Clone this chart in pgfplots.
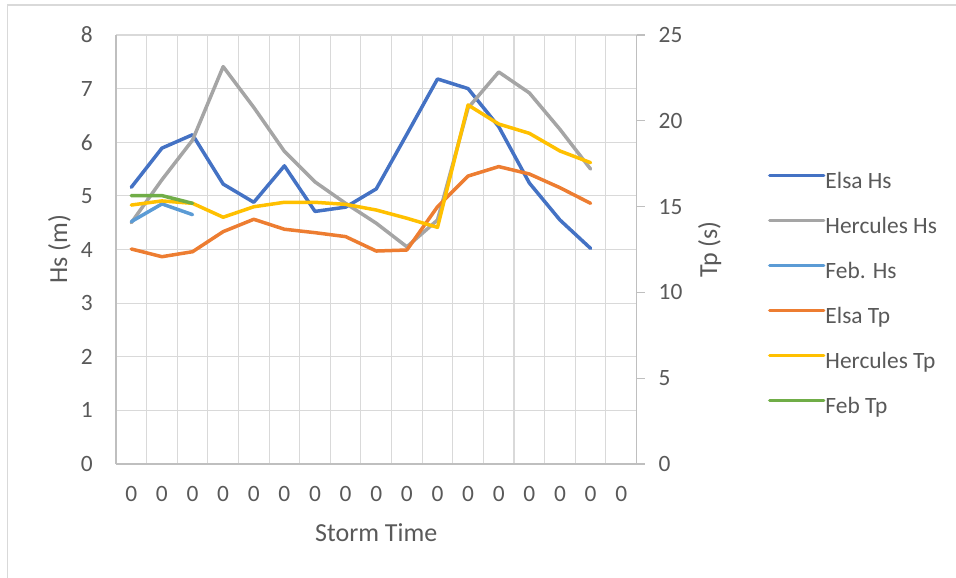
\documentclass[border=0pt]{standalone}
\usepackage{pgfplots}
\pgfplotsset{compat=1.18}
\usepackage{fontspec}
\setmainfont{Carlito}
\definecolor{elsahs}{HTML}{4472C4}
\definecolor{herchs}{HTML}{A5A5A5}
\definecolor{febhs}{HTML}{5B9BD5}
\definecolor{elsatp}{HTML}{ED7D31}
\definecolor{herctp}{HTML}{FFC000}
\definecolor{febtp}{HTML}{70AD47}
\definecolor{gridc}{HTML}{D9D9D9}
\definecolor{axisc}{HTML}{BFBFBF}
\definecolor{txt}{HTML}{595959}
\newcommand{\tickfont}{\fontsize{23.4bp}{28bp}\selectfont}
\newcommand{\titlefont}{\fontsize{26bp}{31bp}\selectfont}
\begin{document}
\begin{tikzpicture}[x=1bp,y=1bp]
\useasboundingbox (0,0) rectangle (956,578);
\draw[gridc, line width=1.3bp] (7.5,0) -- (7.5,573) -- (956,573);
\pgfplotsset{
  every axis/.append style={
    at={(116bp,114bp)}, anchor=south west, scale only axis,
    width=520.5bp, height=429bp,
    xmin=-0.5, xmax=16.5,
    /pgf/number format/assume math mode=true,
    tick label style={font=\tickfont, text=txt},
    label style={font=\titlefont, text=txt},
  },
  every axis plot/.append style={line width=3.5bp, line join=round, line cap=round, mark=none},
}
\begin{axis}[
  ymin=0, ymax=8, ytick={0,1,...,8},
  axis x line*=bottom, axis y line*=left,
  axis line style={axisc, line width=1.3bp},
  xtick={0,...,16},
  xticklabels={0,0,0,0,0,0,0,0,0,0,0,0,0,0,0,0,0},
  minor xtick={-0.5,0.5,1.5,2.5,3.5,4.5,5.5,6.5,7.5,8.5,9.5,10.5,11.5,12.5,13.5,14.5,15.5},
  xminorgrids, ymajorgrids,
  grid style={gridc, line width=1.1bp},
  minor grid style={gridc, line width=1.1bp},
  major tick style={draw=none}, minor tick style={draw=none},
  yticklabel style={anchor=east, inner sep=0pt, xshift=-23bp},
  xticklabel style={anchor=north, inner sep=0pt, yshift=-22bp},
  xlabel={Storm Time}, ylabel={Hs (m)},
  xlabel style={at={(axis description cs:0.5,-0.181)}, anchor=base},
  ylabel style={at={(axis description cs:-0.0941,0.5)}, anchor=base, rotate=0},
]
\addplot[elsahs] coordinates {(0,5.16)(1,5.89)(2,6.14)(3,5.22)(4,4.88)(5,5.56)(6,4.71)(7,4.79)(8,5.13)(9,6.15)(10,7.18)(11,7.00)(12,6.29)(13,5.24)(14,4.55)(15,4.02)};
\addplot[herchs] coordinates {(0,4.50)(1,5.30)(2,6.04)(3,7.41)(4,6.65)(5,5.83)(6,5.26)(7,4.86)(8,4.49)(9,4.05)(10,4.55)(11,6.64)(12,7.31)(13,6.92)(14,6.24)(15,5.50)};
\addplot[febhs] coordinates {(0,4.52)(1,4.85)(2,4.65)};
\end{axis}
\begin{axis}[
  ymin=0, ymax=25, ytick={0,5,...,25},
  axis y line*=right, axis x line=none,
  axis line style={axisc, line width=1.3bp},
  tick align=outside, major tick length=8bp,
  major tick style={axisc, line width=1.3bp},
  yticklabel style={anchor=west, inner sep=0pt, xshift=14bp},
  ylabel={Tp (s)},
  ylabel style={at={(axis description cs:1.1547,0.5)}, anchor=base, rotate=0},
  legend image code/.code={\draw[#1, line width=3.5bp, line cap=round] (0bp,7.5bp) -- (54bp,7.5bp);},
  legend cell align=left,
  legend style={at={(axis description cs:1.2526,0.6795)}, anchor=north west,
    draw=none, fill=none, inner sep=0pt, outer sep=0pt, row sep=24bp,
    font=\tickfont, text=txt,
    nodes={inner sep=0pt, text height=16bp, text depth=5bp},
    /tikz/every even column/.append style={column sep=5bp}},
]
\addlegendimage{elsahs}
\addlegendentry{Elsa Hs}
\addlegendimage{herchs}
\addlegendentry{Hercules Hs}
\addlegendimage{febhs}
\addlegendentry{Feb. Hs}
\addplot[elsatp] coordinates {(0,12.53)(1,12.08)(2,12.37)(3,13.54)(4,14.26)(5,13.68)(6,13.48)(7,13.25)(8,12.41)(9,12.47)(10,14.99)(11,16.78)(12,17.33)(13,16.90)(14,16.10)(15,15.19)};
\addlegendentry{Elsa Tp}
\addplot[herctp] coordinates {(0,15.09)(1,15.33)(2,15.19)(3,14.38)(4,14.99)(5,15.25)(6,15.25)(7,15.13)(8,14.80)(9,14.32)(10,13.79)(11,20.92)(12,19.81)(13,19.27)(14,18.24)(15,17.56)};
\addlegendentry{Hercules Tp}
\addplot[febtp] coordinates {(0,15.64)(1,15.64)(2,15.19)};
\addlegendentry{Feb Tp}
\end{axis}
\end{tikzpicture}
\end{document}
